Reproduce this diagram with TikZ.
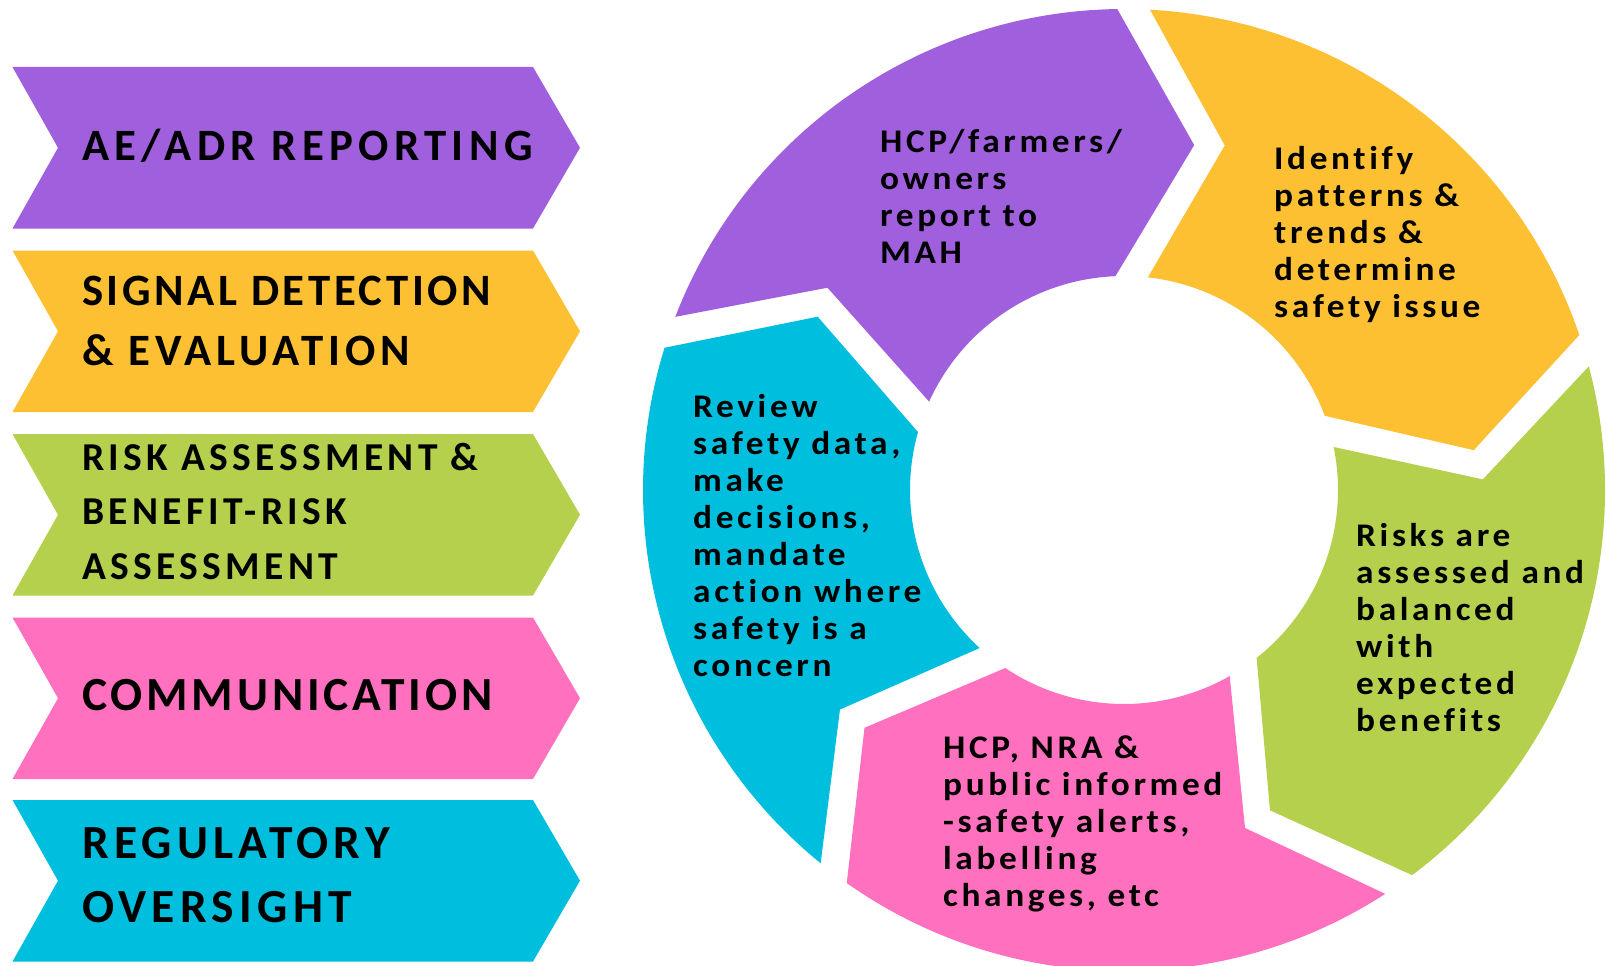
\documentclass[tikz,border=0pt]{standalone}
\usepackage{fontspec}
\usetikzlibrary{calc}
\newfontfamily\lblfont{Carlito}[LetterSpace=11, Ligatures=NoCommon]
\newfontfamily\lblfontw{Carlito}[LetterSpace=12, Ligatures=NoCommon]
\newfontfamily\lblfontn{Carlito}[LetterSpace=8, Ligatures=NoCommon]
\newfontfamily\cycfont{Carlito}[LetterSpace=11, FakeStretch=1.07, Ligatures=NoCommon]
\definecolor{cpurple}{HTML}{A05FDC}
\definecolor{cyellow}{HTML}{FCC032}
\definecolor{cgreen}{HTML}{B4D04C}
\definecolor{cpink}{HTML}{FF70BE}
\definecolor{ccyan}{HTML}{00BEDE}
\newcommand\fntA{\lblfont\bfseries\fontsize{44.8}{60}\selectfont}
\newcommand\fntB{\lblfont\bfseries\fontsize{39.5}{54.5}\selectfont}
\newcommand\fntC{\lblfont\bfseries\fontsize{47.5}{64}\selectfont}
\newcommand\fntD{\cycfont\bfseries\fontsize{33}{37}\selectfont}
\tikzset{
  lbl/.style={anchor=base west, inner sep=0pt, align=left, text=black},
}
\begin{document}
\begin{tikzpicture}[x=1pt,y=1pt]
\useasboundingbox (0,0) rectangle (1606,-966);
% left chevrons
\foreach \tp/\col in {67/cpurple, 250.5/cyellow, 434/cgreen, 617.5/cpink, 800/ccyan}{
  \fill[\col] (12.5,-\tp) -- (533,-\tp) -- (580,{-\tp-80.75}) -- (533,{-\tp-161.5})
     -- (12.5,{-\tp-161.5}) -- (58,{-\tp-80.75}) -- cycle;
}
\node[lbl, font=\fntA] (c1) at (82,-160) {{\lblfontw AE/ADR REPORTING}};
\node[lbl, font=\fntA] (c2) at (82,-365) {{\lblfontn SIGNAL DETECTION}\\\& EVALUATION};
\node[lbl, font=\fntB] (c3) at (82,-579) {RISK ASSESSMENT \&\\BENEFIT-RISK\\ASSESSMENT};
\node[lbl, font=\fntC] (c4) at (82,-710) {{\lblfontn COMMUNICATION}};
\node[lbl, font=\fntC] (c5) at (82,-922) {REGULATORY\\OVERSIGHT};
% cycle
\coordinate (C) at (1124,-490);
\begin{scope}
\clip (0,0) rectangle (1606,-966);
\foreach \sk/\col in {0/cpurple,1/cyellow,2/cgreen,3/cpink,4/ccyan}{
  \pgfmathsetmacro\aTO{158.9-72*\sk}
  \pgfmathsetmacro\aTN{145.7-72*\sk}
  \pgfmathsetmacro\aTI{155.6-72*\sk}
  \pgfmathsetmacro\aHO{90.8-72*\sk}
  \pgfmathsetmacro\aHT{78.5-72*\sk}
  \pgfmathsetmacro\aHI{92.3-72*\sk}
  \fill[\col] ($(C)+(\aTO:481)$) arc[start angle=\aTO, end angle=\aHO, radius=481]
     -- ($(C)+(\aHT:352)$) -- ($(C)+(\aHI:214)$)
     arc[start angle=\aHI, end angle=\aTI, radius=214]
     -- ($(C)+(\aTN:359)$) -- cycle;
}
\end{scope}
\node[lbl, font=\fntD] (s1) at (880,-263) {HCP/farmers/\\owners\\report to\\MAH};
\node[lbl, font=\fntD] (s2) at (1274,-317) {Identify\\patterns \&\\trends \&\\determine\\safety issue};
\node[lbl, font=\fntD] (s3) at (1356,-731) {Risks are\\assessed and\\balanced\\with\\expected\\benefits};
\node[lbl, font=\fntD] (s4) at (943,-906) {HCP, NRA \&\\public informed\\-safety alerts,\\labelling\\changes, etc};
\node[lbl, font=\fntD] (s5) at (693,-676) {Review\\safety data,\\make\\decisions,\\mandate\\action where\\safety is a\\concern};
\end{tikzpicture}
\end{document}
